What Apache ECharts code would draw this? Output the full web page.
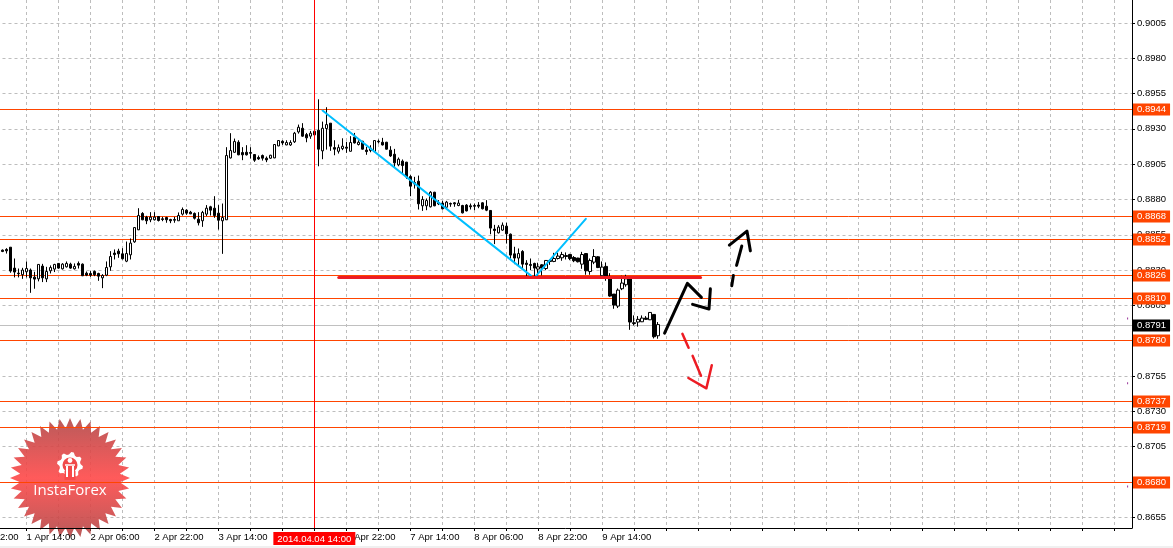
<!DOCTYPE html>
<html><head><meta charset="utf-8">
<style>html,body{margin:0;padding:0;background:#f0f0f0;overflow:hidden}#c{width:1173px;height:546px;background:#fff}</style>
<script src="https://cdn.jsdelivr.net/npm/echarts@6/dist/echarts.min.js"></script>
</head><body><div id="c"></div>
<script>
// hourly candles: [open, close, low, high]
const ohlc = [
[.88437,.88428,.88423,.88442],[.88442,.88432,.88413,.88451],[.88458,.88289,.88277,.88458],[.88310,.88282,.88244,.88378],
[.88274,.88270,.88244,.88307],[.88263,.88296,.88234,.88312],[.88284,.88307,.88244,.88357],[.88296,.88241,.88135,.88307],
[.88246,.88232,.88164,.88284],[.88234,.88336,.88216,.88336],[.88324,.88241,.88211,.88340],[.88234,.88286,.88211,.88319],
[.88291,.88314,.88272,.88329],[.88303,.88336,.88282,.88340],[.88343,.88310,.88305,.88345],[.88305,.88338,.88300,.88345],
[.88319,.88343,.88314,.88357],[.88338,.88310,.88305,.88348],[.88305,.88322,.88300,.88343],[.88343,.88331,.88307,.88357],
[.88338,.88256,.88253,.88343],[.88274,.88260,.88253,.88286],[.88272,.88260,.88248,.88289],[.88286,.88263,.88253,.88293],
[.88272,.88253,.88220,.88277],[.88241,.88258,.88168,.88267],[.88260,.88314,.88253,.88357],[.88319,.88392,.88291,.88430],
[.88416,.88406,.88371,.88442],[.88430,.88411,.88383,.88447],[.88411,.88376,.88371,.88451],[.88359,.88413,.88352,.88498],
[.88404,.88487,.88371,.88520],[.88496,.88597,.88489,.88597],[.88581,.88682,.88579,.88734],[.88697,.88652,.88649,.88706],
[.88671,.88645,.88621,.88680],[.88652,.88671,.88635,.88706],[.88652,.88671,.88647,.88706],[.88675,.88647,.88640,.88678],
[.88659,.88654,.88642,.88673],[.88668,.88652,.88631,.88673],[.88654,.88645,.88628,.88659],[.88654,.88649,.88631,.88673],
[.88645,.88682,.88645,.88704],[.88692,.88725,.88682,.88739],[.88720,.88699,.88687,.88727],[.88706,.88694,.88692,.88715],
[.88697,.88663,.88654,.88704],[.88656,.88631,.88612,.88706],[.88645,.88704,.88602,.88715],[.88692,.88734,.88678,.88756],
[.88744,.88720,.88682,.88751],[.88734,.88682,.88666,.88819],[.88699,.88649,.88583,.88756],[.88645,.88668,.88411,.88767],
[.88652,.89107,.88652,.89166],[.89090,.89142,.89086,.89265],[.89130,.89206,.89126,.89227],[.89201,.89112,.89109,.89215],
[.89128,.89112,.89074,.89166],[.89130,.89112,.89107,.89180],[.89128,.89123,.89086,.89166],[.89114,.89074,.89062,.89116],
[.89093,.89083,.89076,.89107],[.89107,.89088,.89071,.89114],[.89088,.89076,.89060,.89100],[.89088,.89109,.89083,.89112],
[.89090,.89185,.89088,.89187],[.89175,.89213,.89173,.89215],[.89208,.89196,.89182,.89215],[.89182,.89199,.89180,.89215],
[.89182,.89199,.89175,.89215],[.89204,.89265,.89196,.89274],[.89274,.89307,.89262,.89326],[.89300,.89244,.89239,.89336],
[.89255,.89232,.89201,.89267],[.89244,.89265,.89225,.89281],[.89253,.89279,.89220,.89300],[.89286,.89152,.89031,.89505],
[.89140,.89300,.89081,.89347],[.89298,.89326,.89149,.89449],[.89336,.89173,.89140,.89336],[.89163,.89152,.89109,.89215],
[.89137,.89163,.89121,.89185],[.89156,.89173,.89145,.89229],[.89166,.89159,.89126,.89204],[.89137,.89199,.89135,.89244],
[.89237,.89196,.89192,.89267],[.89185,.89201,.89178,.89215],[.89208,.89152,.89149,.89211],[.89145,.89135,.89112,.89168],
[.89142,.89159,.89130,.89180],[.89135,.89213,.89130,.89215],[.89208,.89204,.89192,.89220],[.89201,.89182,.89178,.89232],
[.89201,.89152,.89149,.89204],[.89145,.89104,.89097,.89173],[.89116,.89055,.89020,.89154],[.89041,.89081,.89031,.89093],
[.89067,.89036,.88983,.89079],[.89060,.88956,.88942,.89062],[.88958,.88890,.88819,.88968],[.88916,.88906,.88873,.88956],
[.88925,.88765,.88725,.88965],[.88751,.88796,.88715,.88819],[.88751,.88788,.88720,.88803],[.88744,.88847,.88739,.88855],
[.88847,.88751,.88748,.88850],[.88774,.88765,.88756,.88791],[.88770,.88730,.88725,.88786],[.88741,.88777,.88730,.88786],
[.88767,.88763,.88744,.88774],[.88772,.88765,.88744,.88777],[.88753,.88770,.88748,.88793],[.88753,.88701,.88697,.88758],
[.88756,.88715,.88711,.88763],[.88751,.88744,.88725,.88767],[.88753,.88748,.88720,.88767],[.88756,.88748,.88734,.88777],
[.88772,.88730,.88725,.88777],[.88748,.88720,.88713,.88791],[.88718,.88593,.88550,.88720],[.88586,.88576,.88480,.88616],
[.88560,.88600,.88555,.88614],[.88579,.88614,.88574,.88633],[.88607,.88553,.88484,.88631],[.88550,.88402,.88376,.88555],
[.88411,.88381,.88338,.88461],[.88381,.88413,.88319,.88449],[.88428,.88338,.88307,.88437],[.88345,.88336,.88253,.88366],
[.88336,.88329,.88296,.88378],[.88343,.88310,.88253,.88348],[.88303,.88319,.88253,.88348],[.88333,.88310,.88258,.88338],
[.88307,.88364,.88296,.88366],[.88364,.88357,.88333,.88371],[.88357,.88378,.88352,.88418],[.88378,.88395,.88371,.88418],
[.88383,.88406,.88362,.88425],[.88399,.88392,.88371,.88421],[.88406,.88378,.88366,.88411],[.88385,.88362,.88352,.88395],
[.88381,.88355,.88350,.88383],[.88338,.88406,.88305,.88425],[.88413,.88291,.88263,.88416],[.88286,.88364,.88263,.88378],
[.88352,.88392,.88338,.88444],[.88390,.88314,.88310,.88395],[.88256,.88317,.88253,.88357],[.88322,.88248,.88220,.88350],
[.88248,.88112,.88107,.88274],[.88126,.88048,.88022,.88126],[.88041,.88154,.88027,.88166],[.88164,.88204,.88154,.88256],
[.88192,.88234,.88178,.88263],[.88237,.87928,.87873,.88248],[.87923,.87918,.87904,.87975],[.87928,.87947,.87895,.87970],
[.87930,.87956,.87928,.87975],[.87956,.87947,.87944,.87970],[.87944,.87996,.87942,.87998],[.87982,.87824,.87812,.87984],
[.87831,.87910,.87810,.87928]
];
// candle slot of each time label (slot 0 = first candle)
const tickSlots  = [-10,6,22,38,54,70,86,102,118,134,150];
const tickLabels = ['31 Mar 22:00','1 Apr 14:00','2 Apr 06:00','2 Apr 22:00','3 Apr 14:00','4 Apr 06:00','4 Apr 22:00','7 Apr 14:00','8 Apr 06:00','8 Apr 22:00','9 Apr 14:00'];
const gridSlots  = [-18,-10,-2,6,14,22,30,38,46,54,62,70,78,86,94,102,110,118,126,134,142,150,158,166,174,182,190,198,206,214,222,230,238,246,254,262,270,278];
const priceTicks = [0.9005,0.8980,0.8955,0.8930,0.8905,0.8880,0.8855,0.8830,0.8805,0.8780,0.8755,0.8730,0.8705,0.8680,0.8655];
const levels     = [0.8944,0.8868,0.8852,0.8826,0.8810,0.8780,0.8737,0.8719,0.8680];
const lastPrice  = 0.8791;
const cursorSlot = 78, cursorLabel = '2014.04.04 14:00';
// hand-drawn annotations as [slot, price]
const blueDown  = [[80.05,.89426],[132.3,.88253]];
const blueUp    = [[133.4,.88253],[145.9,.88659]];
const redLevel  = [[84.1,.88244],[174.6,.88244]];
const blackA    = [[165.6,.87850],[171.3,.88202],[174.8,.88103]];
const blackB    = [[172.6,.88053],[176.7,.88020],[177.05,.88163]];
const blackUp1  = [[182.4,.88185],[182.8,.88258]];
const blackUp2  = [[183.6,.88329],[184.9,.88466]];
const blackHead = [[181.8,.88473],[186.2,.88572],[187.05,.88432]];
const redDown1  = [[170.05,.87845],[171.6,.87746]];
const redDown2  = [[172.6,.87689],[174.7,.87548]];
const redHead   = [[171.55,.87532],[176.05,.87459],[177.4,.87622]];
const tinyMarks = [[281.4,.87958],[281.4,.87498],[281.4,.86768]];
const readingOffset = 0.00004; // calibration of the prices

const slotMin = -16, slotMax = 282;
const slots = []; for (let s = slotMin; s <= slotMax; s++) slots.push('s' + s);
const FONT = 'Liberation Sans', FS = 9.5;
const ORANGE = '#ff4500';

function drawing(data, color, width) {
  return {type: 'line', xAxisIndex: 1, data: data.map(p => [p[0], p[1] + readingOffset]), symbol: 'none', silent: true, z: 4, animation: false, clip: false,
    lineStyle: {color, width, cap: 'round', join: 'round'}};
}
function levelItem(params, api) {
  const v = api.value(1), last = v === lastPrice, cs = params.coordSys;
  const y = Math.floor(api.coord([0, v])[1] + 0.25) + 0.5;
  return {type: 'group', children: [
    {type: 'line', shape: {x1: cs.x, y1: y, x2: cs.x + cs.width, y2: y}, style: {stroke: last ? '#c0c0c0' : ORANGE, lineWidth: 1}},
    {type: 'text', x: cs.x + cs.width + 1, y: y, style: {text: v.toFixed(4), fill: '#fff', backgroundColor: last ? '#000' : ORANGE,
      padding: [1, 4, 1, 4], font: FS + 'px "' + FONT + '"', align: 'left', verticalAlign: 'middle'}}
  ]};
}

const chart = echarts.init(document.getElementById('c'), null, {renderer: 'canvas'});

// watermark
const starPts = [], gearPts = [], N = 36;
for (let k = 0; k < N * 2; k++) {
  const r = k % 2 ? 50 : 60, a = Math.PI * k / N - Math.PI / 2;
  starPts.push([70 + r * Math.cos(a), 478 + r * Math.sin(a)]);
}
for (let k = 0; k < 32; k++) {
  const r = [13, 13, 10.5, 10.5][k % 4], a = Math.PI * 2 * (k + 0.5) / 32;
  gearPts.push([70 + r * Math.cos(a), 465 + r * Math.sin(a)]);
}

chart.setOption({
  animation: false,
  backgroundColor: '#fff',
  grid: {left: -63.5, width: 1195.5, top: 0, height: 528, outerBoundsMode: 'none', containLabel: false},
  xAxis: [
    {type: 'category', data: slots, boundaryGap: true, z: 3,
     axisLine: {show: true, lineStyle: {color: '#000'}}, axisTick: {show: false}, splitLine: {show: false},
     axisLabel: {show: true, align: 'left', margin: 4, color: '#000', fontFamily: FONT, fontSize: FS,
       hideOverlap: false,
       interval: (i) => tickSlots.includes(i + slotMin),
       formatter: (v, i) => { const k = tickSlots.indexOf(i + slotMin); return k < 0 ? '' : tickLabels[k]; }}},
    {type: 'value', min: slotMin - 0.5, max: slotMax + 0.5, position: 'bottom', z: 0,
     axisLine: {show: false}, axisLabel: {show: false},
     axisTick: {show: true, length: 3, customValues: gridSlots, lineStyle: {color: '#000'}},
     splitLine: {show: true, lineStyle: {color: '#bdbdbd', type: [3, 3], width: 1}}}
  ],
  yAxis: {type: 'value', position: 'right', min: 0.86474, max: 0.90212, z: 0,
    axisLine: {show: true, onZero: false, lineStyle: {color: '#000'}},
    axisTick: {show: true, length: 3, customValues: priceTicks, lineStyle: {color: '#000'}},
    axisLabel: {show: true, customValues: priceTicks, margin: 5, color: '#000', fontFamily: FONT, fontSize: FS, formatter: (v) => v.toFixed(4)},
    splitLine: {show: true, lineStyle: {color: '#bdbdbd', type: [3, 3], width: 1}}},
  graphic: [
    {type: 'polygon', z: 1, shape: {points: starPts}, style: {opacity: 0.9,
      fill: new echarts.graphic.LinearGradient(0, 0, 0, 1, [{offset: 0, color: '#b24848'}, {offset: 0.5, color: '#ff4848'}, {offset: 1, color: '#b24848'}])}},
    {type: 'polygon', z: 5, shape: {points: gearPts}, style: {fill: '#fff'}},
    {type: 'circle', z: 5, shape: {cx: 70, cy: 465, r: 7.5}, style: {fill: '#f04a4a'}},
    {type: 'rect', z: 5, shape: {x: 64.5, y: 471, width: 11, height: 9}, style: {fill: '#f84a4a'}},
    {type: 'circle', z: 5, shape: {cx: 70, cy: 460.5, r: 2.4}, style: {fill: '#fff'}},
    {type: 'line', z: 5, shape: {x1: 67, y1: 466, x2: 67, y2: 477}, style: {stroke: '#fff', lineWidth: 2}},
    {type: 'line', z: 5, shape: {x1: 73, y1: 466, x2: 73, y2: 477}, style: {stroke: '#fff', lineWidth: 2}},
    {type: 'line', z: 5, shape: {x1: 65, y1: 465, x2: 75, y2: 465}, style: {stroke: '#fff', lineWidth: 1.5}},
    {type: 'text', z: 5, x: 70, y: 490.5, style: {text: 'InstaForex', fill: '#fff', font: '15px "Open Sans"', align: 'center', verticalAlign: 'middle'}}
  ],
  series: [
    {type: 'candlestick', xAxisIndex: 0, barWidth: 3, silent: true, z: 3,
     data: slots.slice(0, -slotMin).map(() => ['-', '-', '-', '-']).concat(ohlc.map(c => c.map(v => v + readingOffset))),
     itemStyle: {color: '#fff', color0: '#000', borderColor: '#000', borderColor0: '#000', borderWidth: 1}},
    {type: 'custom', xAxisIndex: 1, silent: true, z: 2, clip: false, renderItem: levelItem,
     encode: {x: 0, y: 1}, data: levels.concat([lastPrice]).map(v => [0, v])},
    {type: 'line', xAxisIndex: 0, data: [], silent: true, z: 2, clip: false,
     markLine: {silent: true, symbol: 'none', animation: false, precision: 5,
       data: [{xAxis: 's' + cursorSlot, lineStyle: {color: '#ff0000', width: 1, type: 'solid'},
          label: {show: true, position: 'start', distance: 4, formatter: cursorLabel, color: '#fff', backgroundColor: '#ff0000',
            padding: [2, 4, 1, 4], fontFamily: FONT, fontSize: FS}}]}},
    drawing(blueDown, '#00bfff', 2), drawing(blueUp, '#00bfff', 2),
    drawing(redLevel, '#ed1c24', 3),
    drawing(blackA, '#000', 3), drawing(blackB, '#000', 3),
    drawing(blackUp1, '#000', 3), drawing(blackUp2, '#000', 3), drawing(blackHead, '#000', 3),
    drawing(redDown1, '#ed1c24', 2.5), drawing(redDown2, '#ed1c24', 2.5), drawing(redHead, '#ed1c24', 2.5),
    {type: 'scatter', xAxisIndex: 1, data: tinyMarks, symbol: 'rect', symbolSize: [1, 2], silent: true, itemStyle: {color: '#800080'}}
  ]
});
</script></body></html>
